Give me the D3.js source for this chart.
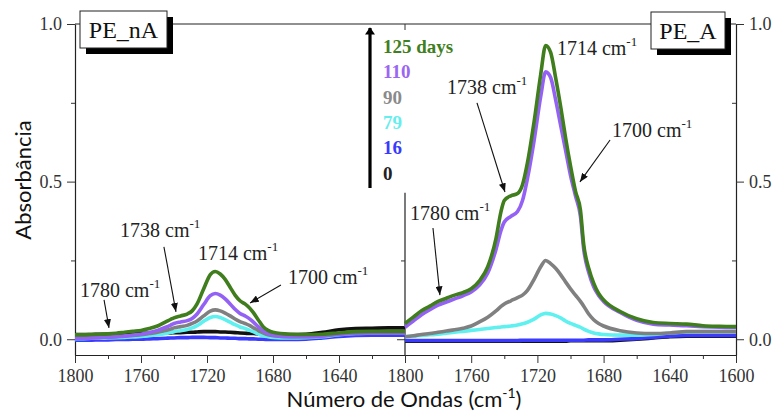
<!DOCTYPE html>
<html>
<head>
<meta charset="utf-8">
<script src="https://cdn.jsdelivr.net/npm/d3@7/dist/d3.min.js"></script>
<style>
  html, body { margin: 0; padding: 0; background: #fff; }
  svg { display: block; }
</style>
</head>
<body>
<svg id="chart" width="774" height="412"></svg>
<script>
// Wavenumber grid (cm^-1) shared by every spectrum
const wavenumbers = [1800,1795,1790,1785,1780,1775,1770,1765,1760,1755,1750,1745,1742,1740,1736,1732,1729,1726,1722,1718,1715,1712,1709,1706,1703,1700,1697,1694,1692,1689,1686,1683,1680,1670,1660,1650,1640,1630,1620,1610,1600];

// Exposure times (days) and their colours
const days = ["0", "16", "79", "90", "110", "125 days"];
const seriesColors = ["#111111", "#3b3bff", "#5ff0f0", "#808080", "#9461f5", "#3f7d1d"];
const legendColors = ["#222222", "#3a3aff", "#66eeee", "#8a8a8a", "#9a66f2", "#3f7f22"];

// PE_nA absorbance, one array per exposure time
const nA_0   = [0.015,0.015,0.015,0.016,0.016,0.017,0.017,0.018,0.018,0.019,0.019,0.020,0.020,0.021,0.021,0.022,0.022,0.023,0.024,0.024,0.024,0.023,0.023,0.022,0.021,0.020,0.019,0.018,0.018,0.017,0.016,0.016,0.015,0.015,0.016,0.022,0.030,0.034,0.035,0.036,0.036];
const nA_16  = [-0.003,-0.003,-0.003,-0.002,-0.002,-0.001,-0.001,0.000,0.000,0.001,0.002,0.003,0.004,0.004,0.005,0.005,0.006,0.006,0.006,0.005,0.005,0.004,0.004,0.003,0.003,0.002,0.002,0.001,0.001,0.000,0.000,-0.001,-0.001,-0.001,0.000,0.004,0.009,0.012,0.013,0.013,0.013];
const nA_79  = [0.002,0.002,0.003,0.003,0.004,0.005,0.006,0.007,0.009,0.011,0.014,0.018,0.021,0.024,0.027,0.031,0.036,0.043,0.057,0.069,0.072,0.069,0.062,0.054,0.046,0.039,0.034,0.028,0.024,0.017,0.011,0.008,0.006,0.004,0.005,0.008,0.014,0.018,0.020,0.021,0.021];
const nA_90  = [0.004,0.004,0.005,0.006,0.007,0.008,0.010,0.012,0.014,0.018,0.022,0.028,0.032,0.036,0.040,0.044,0.050,0.058,0.074,0.089,0.093,0.090,0.083,0.074,0.064,0.056,0.050,0.043,0.037,0.028,0.020,0.014,0.011,0.008,0.008,0.011,0.016,0.019,0.020,0.020,0.020];
const nA_110 = [0.003,0.003,0.004,0.005,0.006,0.008,0.010,0.013,0.016,0.021,0.028,0.038,0.045,0.050,0.055,0.059,0.066,0.080,0.110,0.138,0.145,0.140,0.128,0.112,0.095,0.082,0.074,0.064,0.055,0.040,0.027,0.018,0.013,0.008,0.008,0.010,0.016,0.020,0.021,0.021,0.021];
const nA_125 = [0.014,0.014,0.015,0.016,0.017,0.019,0.022,0.025,0.028,0.034,0.042,0.055,0.063,0.068,0.074,0.080,0.090,0.112,0.160,0.205,0.215,0.207,0.190,0.165,0.140,0.122,0.112,0.098,0.085,0.062,0.040,0.028,0.022,0.016,0.015,0.016,0.020,0.024,0.025,0.025,0.025];

// PE_A absorbance, one array per exposure time
const A_0   = [-0.006,-0.006,-0.006,-0.006,-0.006,-0.006,-0.006,-0.006,-0.006,-0.006,-0.006,-0.006,-0.006,-0.006,-0.006,-0.006,-0.006,-0.006,-0.006,-0.006,-0.006,-0.006,-0.006,-0.006,-0.006,-0.005,-0.005,-0.005,-0.005,-0.005,-0.005,-0.005,-0.005,-0.003,0.000,0.004,0.008,0.010,0.010,0.010,0.010];
const A_16  = [-0.004,-0.004,-0.004,-0.004,-0.004,-0.004,-0.004,-0.004,-0.004,-0.004,-0.004,-0.004,-0.004,-0.004,-0.004,-0.004,-0.003,-0.003,-0.003,-0.003,-0.003,-0.003,-0.003,-0.003,-0.003,-0.003,-0.003,-0.003,-0.003,-0.002,-0.002,-0.002,-0.002,0.000,0.002,0.006,0.010,0.012,0.012,0.012,0.012];
const A_79  = [0.008,0.010,0.012,0.014,0.016,0.019,0.022,0.025,0.028,0.031,0.034,0.037,0.039,0.040,0.042,0.045,0.049,0.054,0.064,0.077,0.082,0.080,0.075,0.068,0.058,0.050,0.044,0.038,0.032,0.025,0.020,0.017,0.015,0.013,0.013,0.015,0.020,0.023,0.024,0.024,0.024];
const A_90  = [0.008,0.011,0.015,0.018,0.022,0.026,0.030,0.035,0.042,0.055,0.070,0.090,0.104,0.112,0.122,0.132,0.140,0.155,0.190,0.230,0.250,0.240,0.225,0.205,0.182,0.160,0.140,0.120,0.105,0.080,0.062,0.050,0.042,0.027,0.020,0.018,0.020,0.024,0.024,0.024,0.024];
const A_110 = [0.038,0.058,0.078,0.094,0.108,0.118,0.128,0.138,0.150,0.172,0.210,0.285,0.345,0.372,0.390,0.405,0.440,0.510,0.630,0.770,0.848,0.830,0.760,0.680,0.600,0.520,0.455,0.390,0.285,0.212,0.166,0.139,0.120,0.085,0.060,0.048,0.045,0.043,0.040,0.038,0.037];
const A_125 = [0.050,0.070,0.090,0.105,0.120,0.130,0.140,0.148,0.160,0.185,0.230,0.320,0.405,0.440,0.455,0.462,0.490,0.560,0.690,0.840,0.932,0.910,0.830,0.740,0.640,0.550,0.470,0.410,0.300,0.225,0.178,0.145,0.125,0.088,0.065,0.053,0.050,0.048,0.043,0.041,0.040];

// Axis ticks
const xMajorLeft  = [1800, 1760, 1720, 1680, 1640];
const xMajorRight = [1800, 1760, 1720, 1680, 1640, 1600];
const xMinor      = [1780, 1740, 1700, 1660, 1620];
const yMajor      = [0.0, 0.5, 1.0];
const yMinor      = [0.25, 0.75];

// Band labels, anchored in data units (wavenumber, absorbance)
const bandsLeft = [
  { band: "1780", at: [1797, 0.134], from: [1782.4, 0.125], to: [1779.4, 0.036] },
  { band: "1738", at: [1772.7, 0.324], from: [1746.1, 0.293], to: [1738.8, 0.087] },
  { band: "1714", at: [1725.5, 0.251] },
  { band: "1700", at: [1670.9, 0.175], from: [1675.2, 0.172], to: [1693.9, 0.115] }
];
const bandsRight = [
  { band: "1714", at: [1708.2, 0.902] },
  { band: "1738", at: [1774.6, 0.778], from: [1756.5, 0.750], to: [1739.6, 0.467] },
  { band: "1700", at: [1674.9, 0.641], from: [1676.1, 0.632], to: [1694.3, 0.499] },
  { band: "1780", at: [1797, 0.378], from: [1783.1, 0.353], to: [1778.9, 0.140] }
];

const SERIF = "'Liberation Serif', 'Times New Roman', serif";
const SANS = "Lato, 'Open Sans', sans-serif";

const svg = d3.select("#chart");

// Layout
const plotTop = 24, plotBottom = 355, plotLeft = 75, plotMid = 405, plotRight = 736;

const y = d3.scaleLinear().domain([-0.05, 1.0]).range([plotBottom, plotTop]);
const xL = d3.scaleLinear().domain([1800, 1600]).range([plotLeft, plotMid]);
const xR = d3.scaleLinear().domain([1800, 1600]).range([plotMid, plotRight]);

const defs = svg.append("defs");
defs.append("marker")
  .attr("id", "head").attr("viewBox", "0 0 10 8")
  .attr("refX", 10).attr("refY", 4)
  .attr("markerWidth", 9).attr("markerHeight", 7)
  .attr("markerUnits", "userSpaceOnUse")
  .attr("orient", "auto")
  .append("path").attr("d", "M0,0 L10,4 L0,8 Z").attr("fill", "#111");
defs.append("marker")
  .attr("id", "bighead").attr("viewBox", "0 0 10 14")
  .attr("refX", 9).attr("refY", 7)
  .attr("markerWidth", 10).attr("markerHeight", 10)
  .attr("markerUnits", "userSpaceOnUse")
  .attr("orient", "auto")
  .append("path").attr("d", "M0,0 L10,7 L0,14 Z").attr("fill", "#000");

// Top border
svg.append("line")
  .attr("x1", plotLeft).attr("x2", plotRight)
  .attr("y1", plotTop).attr("y2", plotTop)
  .attr("stroke", "#222").attr("stroke-width", 1.2);

function styleAxis(g) {
  g.selectAll(".domain").attr("stroke", "#222").attr("stroke-width", 1.2);
  g.selectAll(".tick line").attr("stroke", "#333");
  g.selectAll(".tick text")
    .style("font-family", SERIF)
    .style("font-size", "18px")
    .style("fill", "#333");
}

// Bottom axes
function bottomAxis(x, major) {
  const g = svg.append("g").attr("transform", `translate(0,${plotBottom})`);
  g.call(d3.axisBottom(x).tickValues(major).tickSize(8).tickSizeOuter(0).tickPadding(6).tickFormat(d3.format("d")))
    .call(styleAxis);
  const gm = svg.append("g").attr("transform", `translate(0,${plotBottom})`);
  gm.call(d3.axisBottom(x).tickValues(xMinor).tickSize(4).tickSizeOuter(0).tickFormat(""))
    .call(styleAxis);
  gm.select(".domain").remove();
}
bottomAxis(xL, xMajorLeft);
bottomAxis(xR, xMajorRight);

// Left y axis
const gyL = svg.append("g").attr("transform", `translate(${plotLeft},0)`);
gyL.call(d3.axisLeft(y).tickValues(yMajor).tickSize(8).tickSizeOuter(0).tickPadding(5).tickFormat(d3.format(".1f")))
  .call(styleAxis);
const gyLm = svg.append("g").attr("transform", `translate(${plotLeft},0)`);
gyLm.call(d3.axisLeft(y).tickValues(yMinor).tickSize(4).tickFormat("")).call(styleAxis);
gyLm.select(".domain").remove();

// Right y axis
const gyR = svg.append("g").attr("transform", `translate(${plotRight},0)`);
gyR.call(d3.axisRight(y).tickValues(yMajor).tickSize(8).tickSizeOuter(0).tickPadding(5).tickFormat(d3.format(".1f")))
  .call(styleAxis);
const gyRm = svg.append("g").attr("transform", `translate(${plotRight},0)`);
gyRm.call(d3.axisLeft(y).tickValues(yMinor).tickSize(4).tickFormat("")).call(styleAxis);
gyRm.select(".domain").remove();

// Divider between panels (lower part only; the legend sits above it)
svg.append("line")
  .attr("x1", plotMid).attr("x2", plotMid)
  .attr("y1", y(0.465)).attr("y2", plotBottom)
  .attr("stroke", "#222").attr("stroke-width", 1.2);
const gyM = svg.append("g").attr("transform", `translate(${plotMid},0)`);
gyM.call(d3.axisLeft(y).tickValues([0.0]).tickSize(8).tickFormat("")).call(styleAxis);
gyM.select(".domain").remove();
const gyMm = svg.append("g").attr("transform", `translate(${plotMid},0)`);
gyMm.call(d3.axisLeft(y).tickValues([0.25]).tickSize(4).tickFormat("")).call(styleAxis);
gyMm.select(".domain").remove();
svg.append("line")
  .attr("x1", plotMid).attr("x2", plotMid)
  .attr("y1", plotTop).attr("y2", plotTop + 6)
  .attr("stroke", "#333");

// Spectra
function drawPanel(x, series) {
  const line = d3.line()
    .x((d, i) => x(wavenumbers[i]))
    .y(d => y(d))
    .curve(d3.curveMonotoneX);
  svg.append("g").selectAll("path")
    .data(series)
    .join("path")
    .attr("d", d => line(d))
    .attr("fill", "none")
    .attr("stroke", (d, i) => seriesColors[i])
    .attr("stroke-width", 3.6)
    .attr("stroke-linejoin", "round");
}
drawPanel(xL, [nA_0, nA_16, nA_79, nA_90, nA_110, nA_125]);
drawPanel(xR, [A_0, A_16, A_79, A_90, A_110, A_125]);

// Band annotations
function drawBands(x, bands) {
  const g = svg.append("g");
  bands.forEach(b => {
    const t = g.append("text")
      .style("font-family", SERIF).style("font-size", "20px").style("fill", "#222")
      .attr("x", x(b.at[0])).attr("y", y(b.at[1]));
    t.append("tspan").text(b.band + " cm");
    t.append("tspan").attr("dy", -9).style("font-size", "13px").text("-1");
    if (b.from) {
      g.append("line")
        .attr("x1", x(b.from[0])).attr("y1", y(b.from[1]))
        .attr("x2", x(b.to[0])).attr("y2", y(b.to[1]))
        .attr("stroke", "#111").attr("stroke-width", 1.1)
        .attr("marker-end", "url(#head)");
    }
  });
}
drawBands(xL, bandsLeft);
drawBands(xR, bandsRight);

// Panel name boxes with drop shadow
function nameBox(x0, y0, w, h, label) {
  const g = svg.append("g");
  g.append("rect").attr("x", x0 + 6).attr("y", y0 + 6).attr("width", w).attr("height", h).attr("fill", "#000");
  g.append("rect").attr("x", x0).attr("y", y0).attr("width", w).attr("height", h)
    .attr("fill", "#fff").attr("stroke", "#222").attr("stroke-width", 1);
  g.append("text")
    .attr("x", x0 + w / 2).attr("y", y0 + h / 2 + 8)
    .attr("text-anchor", "middle")
    .style("font-family", SERIF).style("font-size", "24px").style("fill", "#111")
    .text(label);
}
nameBox(80, 11, 87, 37, "PE_nA");
nameBox(651, 12, 74, 37, "PE_A");

// Legend: time arrow with exposure labels
svg.append("line")
  .attr("x1", 370).attr("x2", 370)
  .attr("y1", 188).attr("y2", 28)
  .attr("stroke", "#000").attr("stroke-width", 3.2)
  .attr("marker-end", "url(#bighead)");
const legendOrder = d3.range(days.length).reverse();
svg.append("g").selectAll("text")
  .data(legendOrder)
  .join("text")
  .style("font-family", SERIF).style("font-size", "19px").style("font-weight", "bold")
  .attr("x", 383)
  .attr("y", (d, i) => 53 + i * 25.3)
  .style("fill", d => legendColors[d])
  .text(d => days[d]);

// Axis titles
svg.append("text")
  .style("font-family", SANS).style("font-size", "22px").style("fill", "#111")
  .attr("text-anchor", "middle")
  .attr("transform", "translate(31,180) rotate(-90)")
  .text("Absorbância");
const xt = svg.append("text")
  .style("font-family", SANS).style("font-size", "22px").style("fill", "#111")
  .attr("x", 404).attr("y", 407)
  .attr("text-anchor", "middle");
xt.append("tspan").text("Número de Ondas (cm");
xt.append("tspan").attr("dy", -9).style("font-size", "14px").text("-1");
xt.append("tspan").attr("dy", 9).text(")");
</script>
</body>
</html>
